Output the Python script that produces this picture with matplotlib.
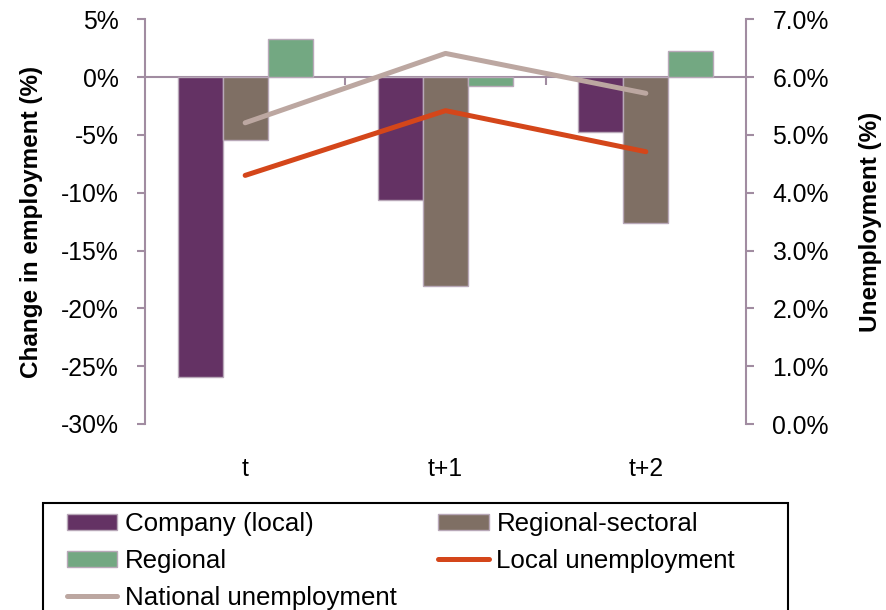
import matplotlib.pyplot as plt
import matplotlib.ticker as mticker
from matplotlib.patches import Rectangle
import numpy as np

plt.rcParams['font.family'] = ['Liberation Sans', 'DejaVu Sans']

# data
periods = ['t', 't+1', 't+2']
company_local = [-25.9, -10.6, -4.75]
regional_sectoral = [-5.45, -18.05, -12.6]
regional = [3.3, -0.75, 2.25]
local_unemp = [4.30, 5.42, 4.71]
national_unemp = [5.21, 6.41, 5.72]

c_company = '#643264'
c_regsec = '#7F6F64'
c_regional = '#73A882'
c_local = '#D4461A'
c_national = '#BCA7A1'
c_axis = '#A18CA1'
c_edge = '#B8A8B8'

fig = plt.figure(figsize=(8.86, 6.10), dpi=100)
ax = fig.add_axes([145 / 886, 1 - 424 / 610, (746 - 145) / 886, (424 - 19.3) / 610])

x = np.arange(len(periods))
w = 0.225
b1 = ax.bar(x - w, company_local, w, color=c_company, edgecolor=c_edge, lw=1, label='Company (local)', zorder=2)
b2 = ax.bar(x, regional_sectoral, w, color=c_regsec, edgecolor=c_edge, lw=1, label='Regional-sectoral', zorder=2)
b3 = ax.bar(x + w, regional, w, color=c_regional, edgecolor=c_edge, lw=1, label='Regional', zorder=2)

ax.set_xlim(-0.5, 2.5)
ax.set_ylim(-30, 5)
ax.set_yticks(np.arange(-30, 6, 5))
ax.yaxis.set_major_formatter(mticker.FuncFormatter(lambda v, p: '%d%%' % v))
ax.set_xticks(x)
ax.set_xticklabels(periods)
ax.tick_params(axis='x', length=0, pad=24, labelsize=17.8)
ax.tick_params(axis='y', length=6, width=1.5, color=c_axis, pad=13, labelsize=17.8)
for s in ['top', 'right', 'bottom']:
    ax.spines[s].set_visible(False)
ax.spines['left'].set_color(c_axis)
ax.spines['left'].set_linewidth(1.5)
ax.set_ylabel('Change in employment (%)', fontsize=17.5, fontweight='bold', labelpad=13)

# zero line with category separators
ymin, ymax = ax.get_ylim()
zero = ax.secondary_xaxis((0 - ymin) / (ymax - ymin))
zero.set_xticks([0.5, 1.5])
zero.set_xticklabels([])
zero.tick_params(direction='in', length=6, width=1.5, color=c_axis)
for s in zero.spines.values():
    s.set_color(c_axis)
    s.set_linewidth(1.5)

ax2 = ax.twinx()
l1, = ax2.plot(x, local_unemp, color=c_local, lw=3.6, solid_capstyle='round', label='Local unemployment')
l2, = ax2.plot(x, national_unemp, color=c_national, lw=3.6, solid_capstyle='round', label='National unemployment')
ax2.set_ylim(0, 7)
ax2.set_yticks(np.arange(0, 7.1, 1))
ax2.yaxis.set_major_formatter(mticker.FuncFormatter(lambda v, p: '%.1f%%' % v))
ax2.tick_params(axis='y', length=6, width=1.5, color=c_axis, pad=13, labelsize=17.8)
for s in ['top', 'left', 'bottom']:
    ax2.spines[s].set_visible(False)
ax2.spines['right'].set_color(c_axis)
ax2.spines['right'].set_linewidth(1.5)
ax2.set_ylabel('Unemployment (%)', fontsize=17.5, fontweight='bold', labelpad=22)

# legend (filled column-wise, so reorder to read row-wise)
handles = [b1, b3, l2, b2, l1]
labels = [h.get_label() for h in handles]
fig.legend(handles, labels, loc='upper left', bbox_to_anchor=(67 / 886, 1 - 512 / 610),
           ncol=2, frameon=False, fontsize=18.6, borderpad=0, borderaxespad=0,
           handlelength=1.95, handleheight=0.55, handletextpad=0.3,
           columnspacing=1.6, labelspacing=0.5)
fig.patches.append(Rectangle((43 / 886, -0.05), (788 - 43) / 886, 0.05 + 1 - 503 / 610,
                             transform=fig.transFigure, fill=False, edgecolor='black', lw=1.5))

fig.savefig('out.png', dpi=100)
